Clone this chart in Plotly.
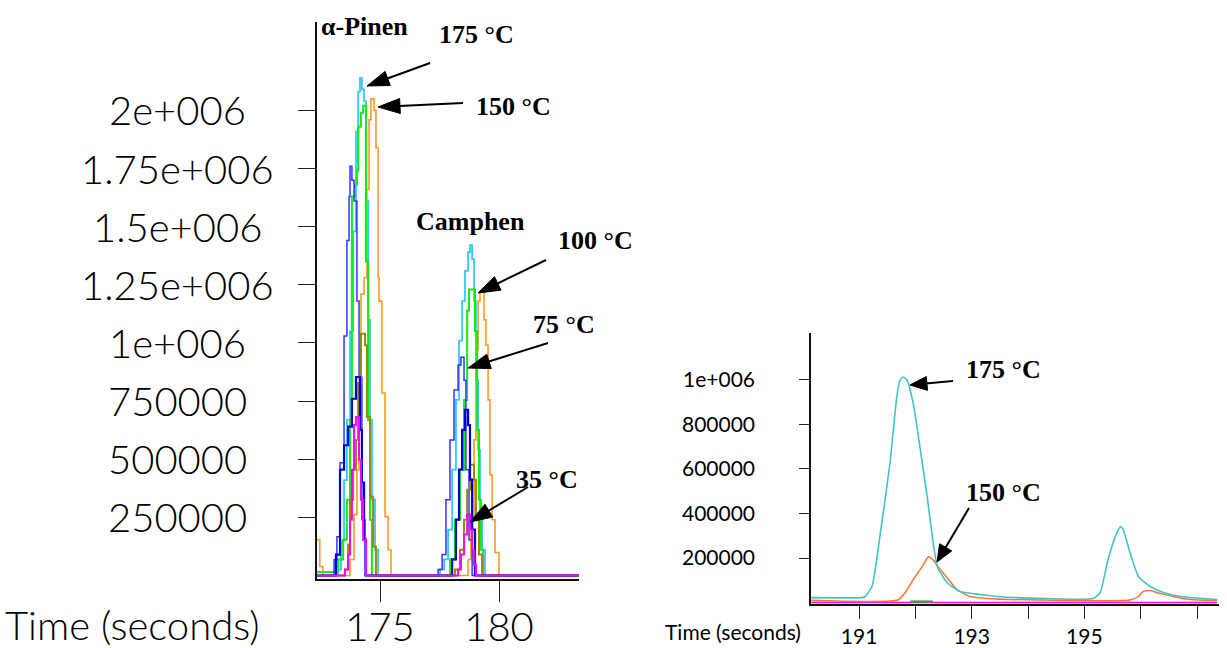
import math
import plotly.graph_objects as go

W, H = 1227, 656

# ---------------- Left panel: step chromatograms (time s, intensity) ----------------
orange_t = [172.35, 172.47, 172.60, 173.74, 173.91, 174.03, 174.12, 174.20, 174.33, 174.45,
            174.54, 174.62, 174.75, 174.83, 174.92, 174.96, 175.08, 175.21, 175.34, 175.46,
            178.70, 178.82, 178.95, 179.03, 179.12, 179.20, 179.37, 179.45, 179.54, 179.62,
            179.71, 179.83, 180.00, 183.40]
orange_v = [154000, 39000, 0, 69000, 262000, 455000, 840000, 1210000, 1280000, 1660000,
            1960000, 2050000, 2000000, 1840000, 1280000, 1180000, 785000, 253000, 111000, 0,
            69000, 240000, 583000, 969000, 1180000, 1220000, 1100000, 990000, 755000, 433000,
            240000, 99000, 0, 0]

cyan_t = [172.35, 173.24, 173.36, 173.49, 173.61, 173.74, 173.87, 173.99, 174.08, 174.16,
          174.24, 174.33, 174.41, 174.50, 174.58, 174.66, 174.79, 174.92,
          177.52, 177.69, 177.86, 178.03, 178.19, 178.32, 178.45, 178.57, 178.70, 178.78,
          178.87, 178.95, 179.03, 179.12, 179.20, 179.29, 179.41, 183.40]
cyan_v = [0, 25000, 150000, 410000, 670000, 1050000, 1480000, 1910000, 2080000, 2140000,
          2090000, 2040000, 1610000, 1100000, 670000, 326000, 111000, 0,
          26000, 69000, 197000, 455000, 755000, 1010000, 1180000, 1310000, 1390000, 1420000,
          1360000, 1180000, 840000, 540000, 283000, 111000, 0, 0]

green_t = [172.35, 173.24, 173.45, 173.61, 173.74, 173.82, 173.95, 174.03, 174.08, 174.20,
           174.29, 174.41, 174.50, 174.58, 174.66,
           177.94, 178.15, 178.36, 178.53, 178.66, 178.74, 178.99, 179.08, 179.16, 179.24,
           179.33, 183.40]
green_v = [15000, 69000, 154000, 326000, 669000, 1630000, 1680000, 1740000, 1930000, 1990000,
           2020000, 1350000, 669000, 240000, 0,
           69000, 240000, 455000, 755000, 1140000, 1230000, 1050000, 626000, 326000, 111000,
           0, 0]

blue_t = [172.35, 173.07, 173.19, 173.32, 173.49, 173.61, 173.70, 173.74, 173.82, 173.91,
          174.03, 174.12, 174.24, 174.37,
          177.44, 177.61, 177.77, 177.94, 178.11, 178.28, 178.40, 178.53, 178.61, 178.74,
          178.87, 183.40]
blue_v = [0, 69000, 167000, 485000, 1030000, 1440000, 1630000, 1760000, 1700000, 1610000,
          1180000, 853000, 240000, 0,
          26000, 90000, 326000, 583000, 798000, 905000, 939000, 840000, 455000, 154000,
          0, 0]

darkblue_t = [172.35, 173.15, 173.32, 173.49, 173.66, 173.82, 173.99, 174.16, 174.24, 174.33,
              174.41, 178.03, 178.19, 178.32, 178.45, 178.57, 178.70, 178.78, 178.87, 178.99,
              183.40]
darkblue_v = [0, 90000, 455000, 560000, 640000, 760000, 853000, 626000, 399000, 154000,
              0, 69000, 240000, 455000, 626000, 712000, 647000, 412000, 197000, 0,
              0]

olive_t = [172.35, 173.53, 173.66, 173.74, 173.87, 173.99, 174.08, 174.20, 174.37, 174.45,
           174.58, 174.71, 174.83,
           178.15, 178.36, 178.53, 178.66, 178.78, 178.95, 179.03, 179.16, 179.29, 183.40]
olive_v = [0, 26000, 133000, 326000, 455000, 583000, 828000, 1040000, 990000, 682000,
           339000, 124000, 0,
           26000, 111000, 240000, 369000, 476000, 412000, 240000, 90000, 0, 0]

magenta_t = [172.35, 173.53, 173.66, 173.74, 173.82, 173.91, 173.99, 174.12, 174.20, 174.29,
             174.41, 178.28, 178.40, 178.53, 178.66, 178.78, 178.87, 178.95, 179.03, 183.40]
magenta_v = [0, 26000, 90000, 240000, 455000, 647000, 682000, 497000, 326000, 154000,
             0, 26000, 90000, 176000, 262000, 197000, 111000, 47000, 0, 0]

left_ytick_vals = [250000, 500000, 750000, 1000000, 1250000, 1500000, 1750000, 2000000]
left_ytick_text = ["250000", "500000", "750000", "1e+006", "1.25e+006", "1.5e+006",
                   "1.75e+006", "2e+006"]
left_xtick_vals = [175, 180]
left_xtick_text = ["175", "180"]

# ---------------- Right panel: smooth chromatograms ----------------
r_cyan_t = [190.15, 191.05, 191.11, 191.23, 191.37, 191.55, 191.67, 191.73, 191.78, 191.85,
            191.96, 192.08, 192.21, 192.30, 192.39, 192.56, 192.79, 193.15, 193.45, 194.34,
            195.16, 195.28, 195.42, 195.55, 195.64, 195.69, 195.81, 195.96, 196.17, 196.40,
            196.70, 197.11, 197.36]
r_cyan_v = [22000, 22000, 27000, 72000, 296000, 628000, 924000, 1000000, 1013000, 1000000,
            897000, 700000, 475000, 296000, 161000, 90000, 49000, 36000, 27000, 18000,
            18000, 45000, 193000, 296000, 341000, 327000, 224000, 117000, 72000, 45000,
            27000, 18000, 13000]
r_orange_t = [190.15, 191.69, 191.82, 191.96, 192.12, 192.23, 192.31, 192.44, 192.56, 192.74,
              192.97, 193.27, 194.21, 195.81, 195.96, 196.04, 196.17, 196.35, 196.58, 196.88,
              197.36]
r_orange_v = [10000, 11000, 45000, 103000, 161000, 206000, 193000, 148000, 112000, 58000,
              27000, 18000, 11000, 11000, 27000, 49000, 54000, 40000, 27000, 13000,
              9000]
r_green_t = [191.91, 192.31]
r_green_v = [5000, 5000]
r_magenta_t = [190.15, 197.36]
r_magenta_v = [0, 0]

right_ytick_vals = [200000, 400000, 600000, 800000, 1000000]
right_ytick_text = ["200000", "400000", "600000", "800000", "1e+006"]
right_xtick_vals = [191, 192, 193, 194, 195, 196, 197]
right_xtick_text = ["191", "", "193", "", "195", "", ""]

# ---------------- Figure ----------------
THIN = "Lato"
SERIF = "Liberation Serif"
BIG = dict(family=THIN, size=40, color="#000000", weight=300)
SMALL = dict(family=THIN, size=21, color="#000000", weight=400)

fig = go.Figure()

left_series = [
    (orange_t, orange_v, "#ff9a1f", 1.6),
    (cyan_t, cyan_v, "#38c8f8", 1.8),
    (green_t, green_v, "#10ee10", 2.0),
    (blue_t, blue_v, "#3434ff", 1.5),
    (olive_t, olive_v, "#9a8a00", 2.0),
    (darkblue_t, darkblue_v, "#0000d8", 2.2),
    (magenta_t, magenta_v, "#ff00ff", 2.0),
]
for t, v, c, w in left_series:
    fig.add_trace(go.Scatter(x=t, y=v, mode="lines", line=dict(color=c, width=w, shape="hv"),
                             xaxis="x", yaxis="y", hoverinfo="skip"))

right_series = [
    (r_magenta_t, r_magenta_v, "#ff00ff", 1.5, "linear"),
    (r_green_t, r_green_v, "#10c010", 2.0, "linear"),
    (r_orange_t, r_orange_v, "#ff7428", 1.5, "spline"),
    (r_cyan_t, r_cyan_v, "#40c4cc", 1.6, "spline"),
]
for t, v, c, w, s in right_series:
    fig.add_trace(go.Scatter(x=t, y=v, mode="lines",
                             line=dict(color=c, width=w, shape=s, smoothing=0.5 if s == "spline" else None),
                             xaxis="x2", yaxis="y2", hoverinfo="skip"))


def px(x):
    return x / W


def py(y):
    return 1 - y / H


axis_common = dict(showgrid=False, zeroline=False, showline=True, linecolor="#111111",
                   linewidth=1.5, ticks="outside", tickcolor="#222222", tickwidth=1.3)

fig.update_layout(
    width=W, height=H, margin=dict(l=0, r=0, t=0, b=0, pad=0),
    paper_bgcolor="white", plot_bgcolor="white", showlegend=False,
    xaxis=dict(domain=[px(317), px(579)], range=[172.353, 183.36], anchor="y",
               tickvals=left_xtick_vals, ticktext=left_xtick_text, ticklen=21,
               ticklabelstandoff=-9, tickfont=BIG, **axis_common),
    yaxis=dict(domain=[py(579), py(22)], range=[-15000, 2.38e6], anchor="x",
               tickvals=left_ytick_vals, showticklabels=False, ticklen=17,
               **axis_common),
    xaxis2=dict(domain=[px(811), px(1219)], range=[190.147, 197.39], anchor="y2",
                tickvals=right_xtick_vals, ticktext=right_xtick_text, ticklen=13,
                tickfont=SMALL, **axis_common),
    yaxis2=dict(domain=[py(604), py(333)], range=[-6700, 1.211e6], anchor="x2",
                tickvals=right_ytick_vals, ticktext=right_ytick_text, ticklen=10,
                ticklabelstandoff=40, tickfont=SMALL, **axis_common),
)

annotations = []
for v, lbl in zip(left_ytick_vals, left_ytick_text):
    annotations.append(dict(x=px(177), xref="paper", y=v, yref="y", text=lbl, showarrow=False,
                            xanchor="center", yanchor="middle", font=BIG))

annotations.append(dict(x=px(132), y=py(625), xref="paper", yref="paper", text="Time (seconds)",
                        showarrow=False, xanchor="center", yanchor="middle", font=BIG))
annotations.append(dict(x=px(733), y=py(631), xref="paper", yref="paper", text="Time (seconds)",
                        showarrow=False, xanchor="center", yanchor="middle", font=SMALL))

labels = [
    ("α-Pinen", 364, 26),
    ("175 °C", 476, 34),
    ("150 °C", 513, 106),
    ("Camphen", 470, 222),
    ("100 °C", 595, 240),
    ("75 °C", 564, 324),
    ("35 °C", 547, 479),
    ("175 °C", 1003, 369),
    ("150 °C", 1003, 492),
]
for txt, x, y in labels:
    annotations.append(dict(x=px(x), y=py(y), xref="paper", yref="paper", text=txt,
                            showarrow=False, xanchor="center", yanchor="middle",
                            font=dict(family=SERIF, size=26, color="black", weight="bold")))
fig.update_layout(annotations=annotations)

arrows = [
    (430, 63, 367, 86, 22, 15),
    (463, 103, 378, 107, 22, 15),
    (546, 260, 478, 293, 22, 15),
    (548, 343, 468, 368, 22, 15),
    (528, 487, 470, 522, 22, 15),
    (953, 381, 910, 385, 17, 14),
    (969, 508, 937, 562, 17, 14),
]
shapes = []
for x0, y0, x1, y1, L, Wd in arrows:
    dx, dy = x1 - x0, y1 - y0
    d = math.hypot(dx, dy)
    ux, uy = dx / d, dy / d
    bx, by = x1 - ux * L, y1 - uy * L
    nx, ny = -uy, ux
    p1 = (bx + nx * Wd / 2, by + ny * Wd / 2)
    p2 = (bx - nx * Wd / 2, by - ny * Wd / 2)
    shapes.append(dict(type="line", xref="paper", yref="paper", x0=px(x0), y0=py(y0),
                       x1=px(bx + ux), y1=py(by + uy), line=dict(color="black", width=2)))
    path = "M {:.5f},{:.5f} L {:.5f},{:.5f} L {:.5f},{:.5f} Z".format(
        px(x1), py(y1), px(p1[0]), py(p1[1]), px(p2[0]), py(p2[1]))
    shapes.append(dict(type="path", xref="paper", yref="paper", path=path,
                       fillcolor="black", line=dict(color="black", width=1)))
fig.update_layout(shapes=shapes)

fig.write_html("out.html")
